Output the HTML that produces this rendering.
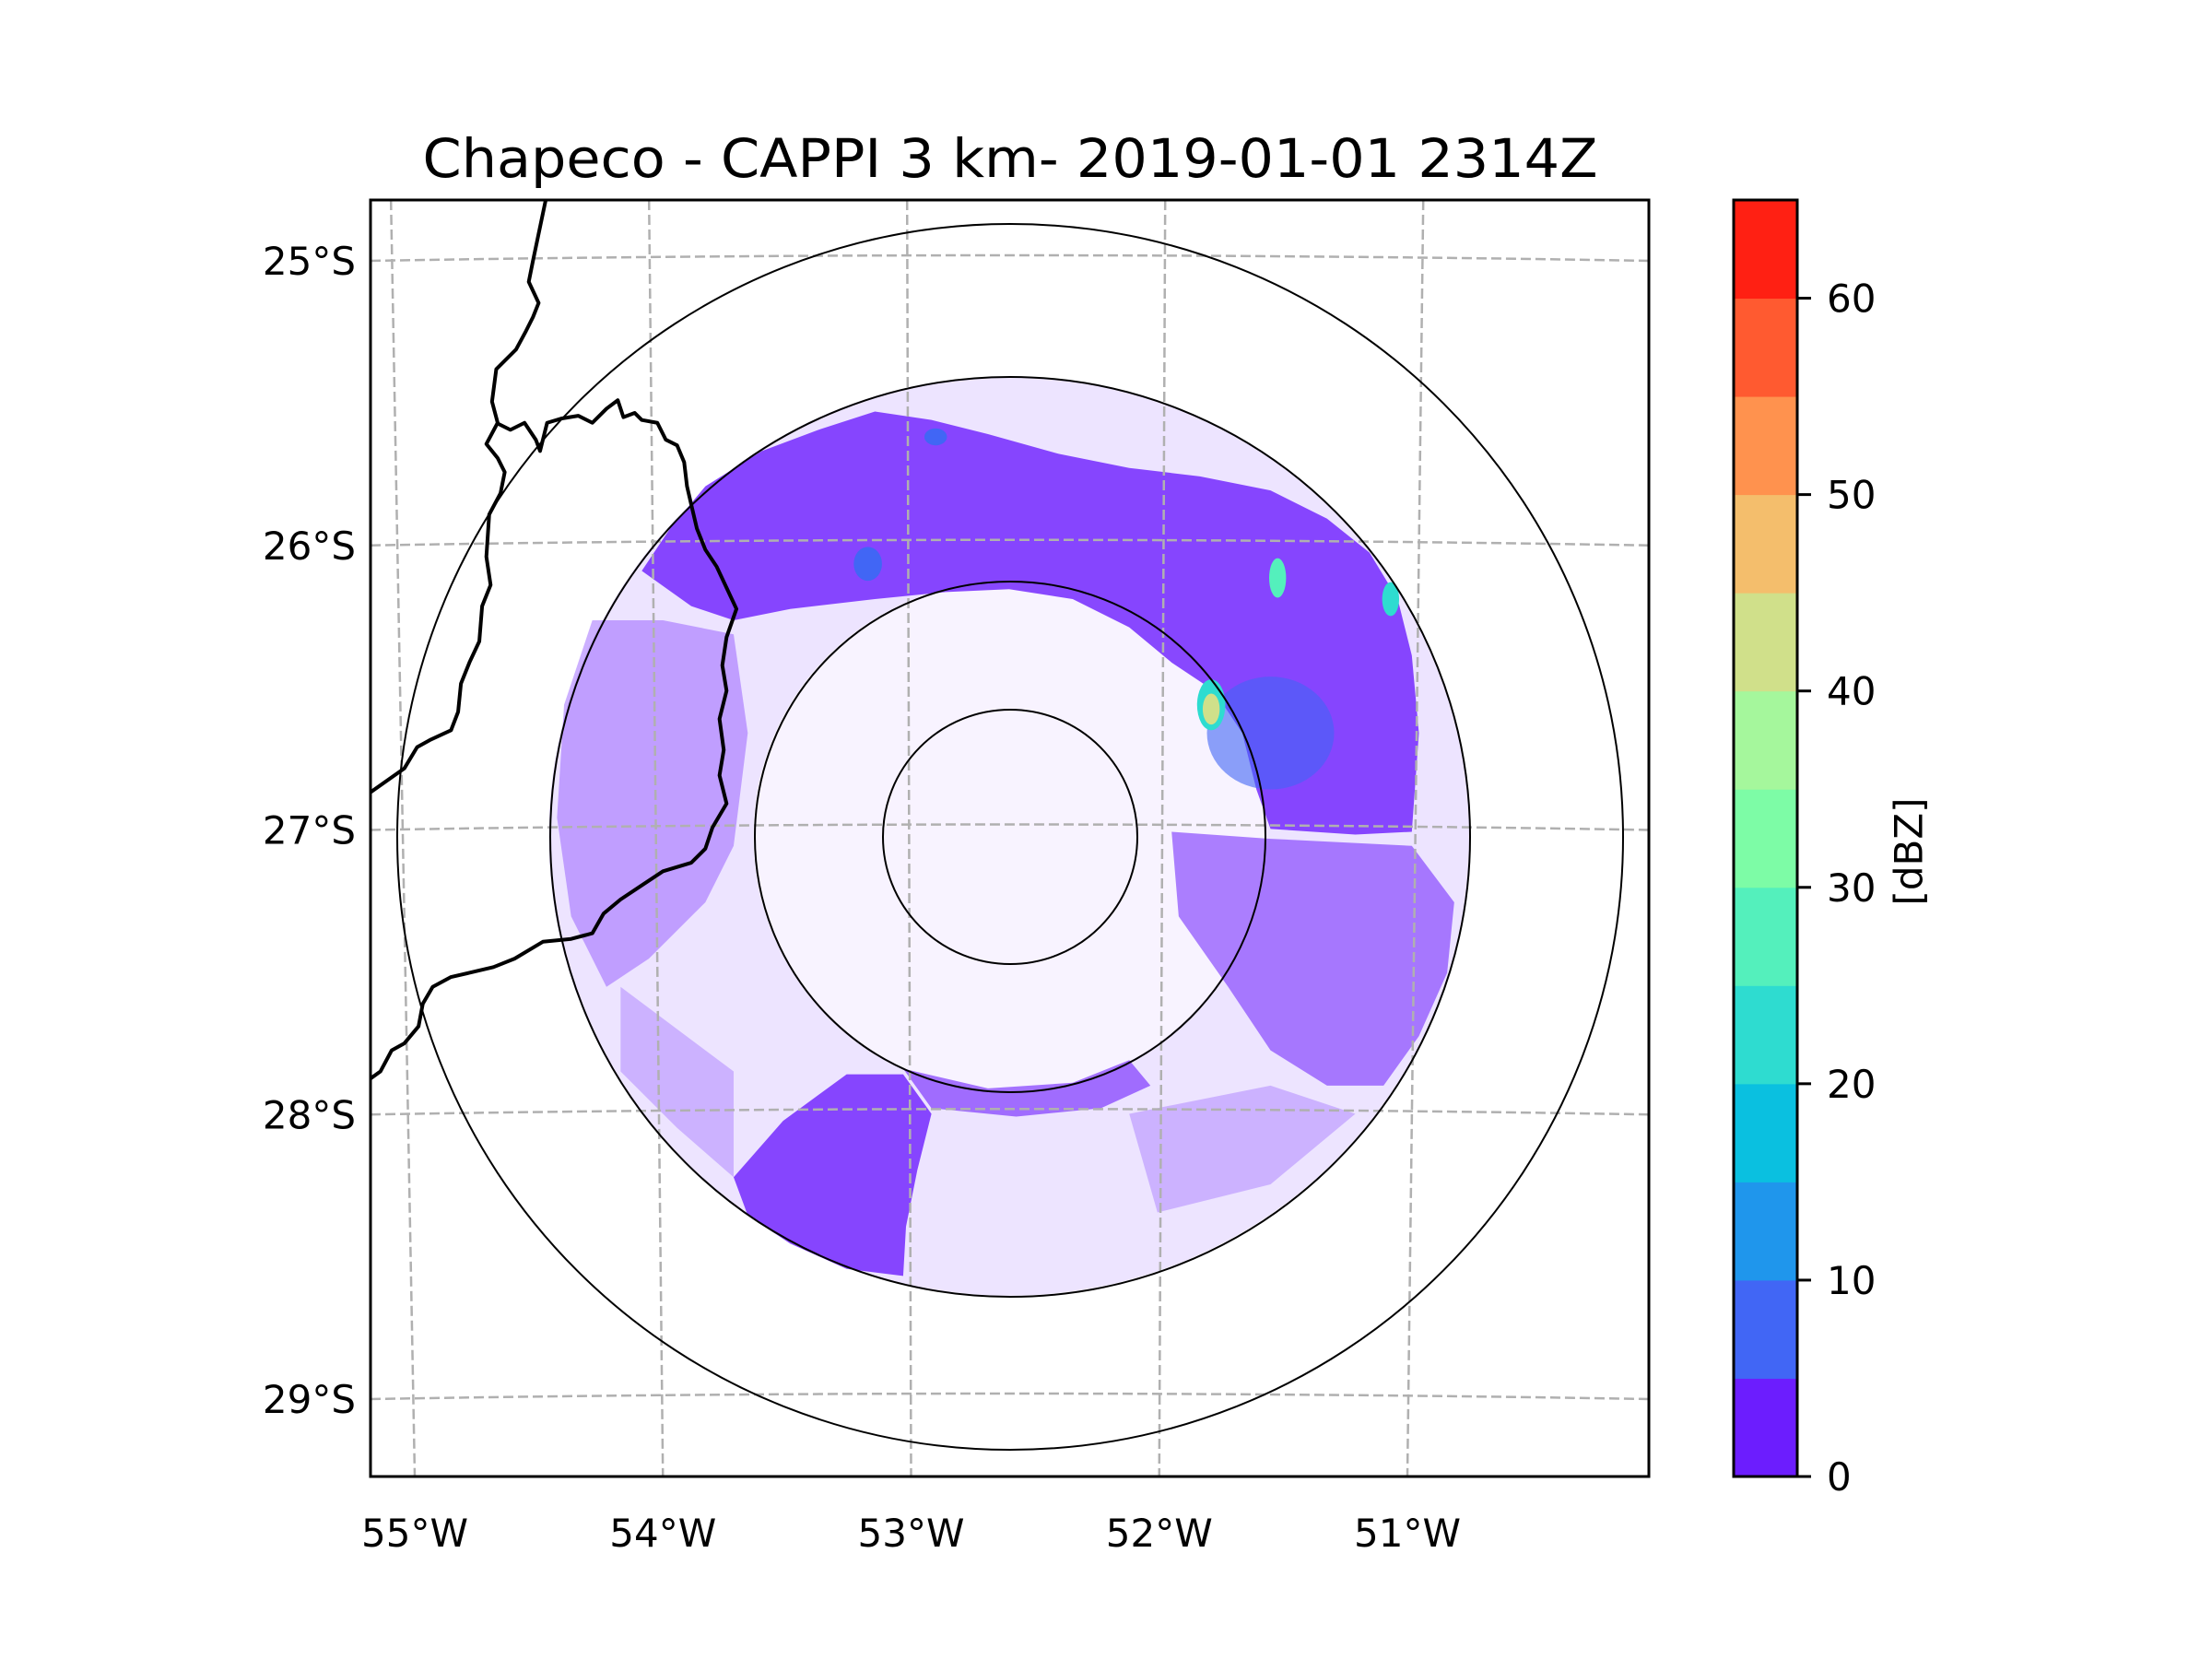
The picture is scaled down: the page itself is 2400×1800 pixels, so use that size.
<!DOCTYPE html>
<html><head><meta charset="utf-8"><style>
html,body{margin:0;padding:0;background:#fff}
svg{display:block;font-family:"DejaVu Sans","Liberation Sans",sans-serif}
</style></head><body>
<svg id="fig" width="2400" height="1800" viewBox="0 0 2400 1800" xmlns="http://www.w3.org/2000/svg">
<rect width="2400" height="1800" fill="#fff"/>
<text x="1096" y="192" font-size="58" text-anchor="middle" textLength="1275" lengthAdjust="spacingAndGlyphs">Chapeco - CAPPI 3 km- 2019-01-01 2314Z</text>
<defs><clipPath id="pc"><rect x="402" y="217" width="1387" height="1385"/></clipPath></defs>
<g id="map" clip-path="url(#pc)">
 <g id="echo" transform="translate(402,217) scale(1.533,1.530) translate(-263,-142)">
  <path fill="#6c1dfe" opacity="0.12" fill-rule="evenodd" d="M715,267 a326,326 0 1,0 0.1,0 Z M715,412 a181,181 0 1,1 -0.1,0 Z"/>
  <path fill="#6c1dfe" opacity="0.05" d="M715,412 a181,181 0 1,0 0.1,0 Z"/>
  <path fill="#6c1dfe" opacity="0.8" d="M455,405 L475,375 L500,345 L540,320 L580,305 L620,292 L660,298 L700,308 L750,322 L800,332 L850,338 L900,348 L940,368 L970,392 L990,425 L1000,465 L1005,520 L1000,590 L960,592 L900,588 L890,560 L880,520 L860,490 L830,470 L800,445 L760,425 L715,418 L670,420 L620,425 L560,432 L520,440 L490,430 Z"/>
  <path fill="#6c1dfe" opacity="0.35" d="M420,440 L470,440 L520,450 L530,520 L520,600 L500,640 L460,680 L430,700 L405,650 L395,580 L400,500 Z"/>
  <path fill="#6c1dfe" opacity="0.8" d="M520,835 L555,795 L600,762 L640,762 L660,790 L650,830 L642,870 L640,905 L600,900 L560,882 L530,862 Z"/>
  <path fill="#6c1dfe" opacity="0.6" d="M640,758 L700,772 L760,768 L800,752 L815,770 L780,786 L720,792 L660,786 Z"/>
  <path fill="#6c1dfe" opacity="0.55" d="M830,590 L900,595 L1000,600 L1030,640 L1025,690 L1005,735 L980,770 L940,770 L900,745 L870,700 L835,650 Z"/>
  <path fill="#6c1dfe" opacity="0.25" d="M440,700 L520,760 L520,835 L480,800 L440,760 Z M800,790 L900,770 L960,790 L900,840 L820,860 Z"/>
  <ellipse cx="900" cy="520" rx="45" ry="40" fill="#4166f5" opacity="0.6"/>
  <ellipse cx="858" cy="500" rx="10" ry="18" fill="#2edcd0"/>
  <ellipse cx="858" cy="503" rx="6" ry="11" fill="#d0e08a"/>
  <ellipse cx="905" cy="410" rx="6" ry="14" fill="#54f0bc"/>
  <ellipse cx="985" cy="425" rx="6" ry="12" fill="#2edcd0"/>
  <ellipse cx="615" cy="400" rx="10" ry="12" fill="#4166f5"/>
  <ellipse cx="663" cy="310" rx="8" ry="6" fill="#4166f5"/>
 </g>
 <g id="grid"></g>
 <g transform="translate(402,217) scale(1.533,1.530) translate(-263,-142)" fill="none" stroke="#000" stroke-width="4" vector-effect="non-scaling-stroke" stroke-linejoin="round">
  <path vector-effect="non-scaling-stroke" d="M387,142 L378,185 L375,200 L382,215 L378,225 L373,235 L366,248 L352,262 L349,285 L353,300 L345,315 L353,325 L358,335 L355,350 L347,365 L345,395 L348,415 L342,430 L340,455 L333,470 L327,485 L325,505 L320,518 L305,525 L296,530 L287,545 L263,562"/>
  <path vector-effect="non-scaling-stroke" d="M352,300 L362,305 L372,300 L380,312 L383,320 L388,300 L398,297 L410,295 L420,300 L430,290 L438,284 L442,296 L450,293 L455,298 L466,300 L472,312 L480,316 L485,328 L487,345 L490,358 L494,375 L500,390 L508,402 L515,417 L522,432 L515,452 L512,472 L515,490 L510,510 L513,532 L510,550 L515,570 L505,587 L500,602 L490,612 L470,618 L455,628 L440,638 L428,648 L420,662 L405,666 L385,668 L365,680 L350,686 L333,690 L320,693 L307,700 L300,712 L297,728 L287,740 L278,745 L270,760 L263,765"/>
 </g>
 <g fill="none" stroke="#000" stroke-width="2">
  <circle cx="1096" cy="908" r="665"/>
  <circle cx="1096" cy="908" r="499"/>
  <circle cx="1096" cy="908" r="277"/>
  <circle cx="1096" cy="908" r="138"/>
 </g>
</g>
<rect x="402" y="217" width="1387" height="1385" fill="none" stroke="#000" stroke-width="3"/>
<g id="labels" font-size="42"></g>
<g id="cbar"></g>
<text x="2074" y="924" font-size="42" text-anchor="middle" transform="rotate(-90 2074 924)" dominant-baseline="middle">[dBZ]</text>
</svg>
<script>
const latTicks = [25, 26, 27, 28, 29];
const lonTicks = [55, 54, 53, 52, 51];
const cbarLevels = [0,5,10,15,20,25,30,35,40,45,50,55,60,65];
const cbarColors = ["#6c1dfe","#4166f5","#1f96ec","#0ac0e0","#2edcd0","#54f0bc","#7dfca6","#a5f79c","#d0e08a","#f4be6c","#ff924e","#ff5a30","#ff2013"];
const cbarTicks = [0,10,20,30,40,50,60];
const NS = "http://www.w3.org/2000/svg";
const PL = 402, PR = 1789, PT = 217, PB = 1602, CX = 1096;
function latY(lat){ return 283 + (lat - 25) * 308.75; }
function lonX(lon){ return 450 + (55 - lon) * 269.25; }
function cbY(v){ return PB - (v - cbarLevels[0]) / (cbarLevels[cbarLevels.length-1] - cbarLevels[0]) * (PB - PT); }
function mk(tag, attrs, parent){ const e = document.createElementNS(NS, tag); for (const k in attrs) e.setAttribute(k, attrs[k]); parent.appendChild(e); return e; }
const grid = document.getElementById('grid');
const labels = document.getElementById('labels');
latTicks.forEach(lat => {
  const y = latY(lat);
  const p = mk('path', {d:`M${PL},${y} Q${CX},${y-12} ${PR},${y}`, fill:'none', stroke:'#b0b0b0', 'stroke-width':2.5, 'stroke-dasharray':'11 5'}, grid);
  
  
  const t = mk('text', {x:386, y:y+15, 'text-anchor':'end'}, labels);
  t.textContent = lat + '°S';
  
  
});
lonTicks.forEach(lon => {
  const xb = lonX(lon);
  const xt = CX + (xb - CX) * 1.04;
  const p = mk('line', {x1:xt, y1:PT, x2:xb, y2:PB, stroke:'#b0b0b0', 'stroke-width':2.5, 'stroke-dasharray':'11 5'}, grid);
  
  
  const t = mk('text', {x:xb, y:1678, 'text-anchor':'middle'}, labels);
  t.textContent = lon + '°W';
  
  
});
const cbar = document.getElementById('cbar');
cbarColors.forEach((c, i) => {
  const y0 = cbY(cbarLevels[i+1]), y1 = cbY(cbarLevels[i]);
  const r = mk('rect', {x:1881, y:y0, width:69, height:y1 - y0 + 0.5, fill:c}, cbar);
  
  
});
const fr = mk('rect', {x:1881, y:PT, width:69, height:PB-PT, fill:'none', stroke:'#000', 'stroke-width':3}, cbar);


cbarTicks.forEach(v => {
  const y = cbY(v);
  const l = mk('line', {x1:1950, y1:y, x2:1965, y2:y, stroke:'#000', 'stroke-width':3}, cbar);
  
  
  const t = mk('text', {x:1982, y:y+15, 'font-size':42}, cbar);
  t.textContent = v;
  
  
});
</script>
</body></html>
